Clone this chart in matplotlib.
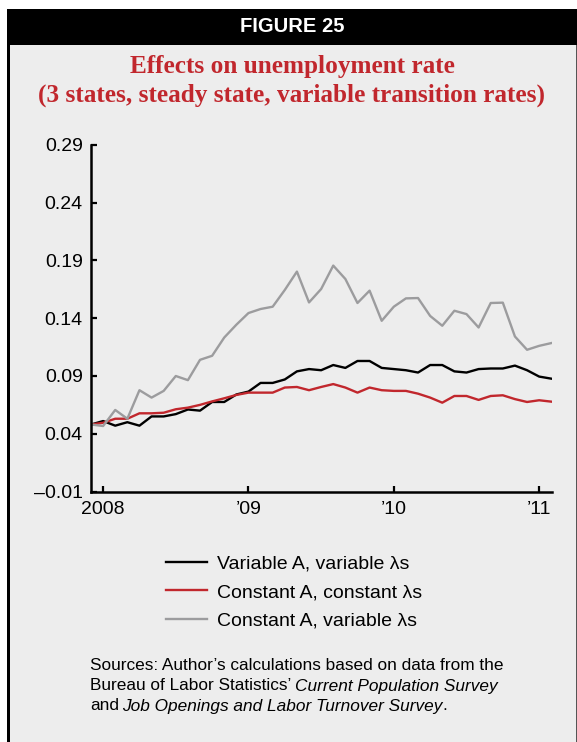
import numpy as np
import pandas as pd
import matplotlib
matplotlib.use("Agg")
import matplotlib.pyplot as plt
from matplotlib.patches import Rectangle

# monthly observations, Dec 2007 - Feb 2011
months = pd.date_range("2007-12-01", "2011-02-01", freq="MS")

variable_a_variable_l = [
    0.048, 0.051, 0.047, 0.050, 0.047, 0.055, 0.055, 0.057, 0.061, 0.060,
    0.0675, 0.0675, 0.074, 0.0765, 0.084, 0.084, 0.087, 0.094, 0.096, 0.095,
    0.0995, 0.097, 0.103, 0.103, 0.097, 0.096, 0.095, 0.093, 0.0995, 0.0995,
    0.094, 0.093, 0.096, 0.0965, 0.0965, 0.099, 0.095, 0.0895, 0.0877,
]
constant_a_constant_l = [
    0.048, 0.0495, 0.053, 0.053, 0.0577, 0.0577, 0.0582, 0.0612, 0.0626, 0.065,
    0.068, 0.0707, 0.0736, 0.0756, 0.0756, 0.0756, 0.080, 0.0805, 0.0777, 0.0805,
    0.083, 0.080, 0.0756, 0.080, 0.0777, 0.0771, 0.0771, 0.0747, 0.0713, 0.0669,
    0.0727, 0.0727, 0.0693, 0.0727, 0.0733, 0.070, 0.0675, 0.069, 0.0678,
]
constant_a_variable_l = [
    0.048, 0.0467, 0.0606, 0.053, 0.0777, 0.0713, 0.0771, 0.090, 0.0864, 0.104,
    0.1075, 0.1233, 0.1344, 0.1445, 0.148, 0.150, 0.1645, 0.1804, 0.1537, 0.1653,
    0.1856, 0.174, 0.1532, 0.1639, 0.1378, 0.150, 0.1572, 0.1575, 0.142, 0.1335,
    0.1465, 0.1436, 0.132, 0.1532, 0.1535, 0.1242, 0.1127, 0.1161, 0.1185,
]
series_labels = ["Variable A, variable \u03bbs", "Constant A, constant \u03bbs",
                 "Constant A, variable \u03bbs"]
series_colors = ["#000000", "#c1272d", "#9c9c9e"]

y_ticks = [-0.01, 0.04, 0.09, 0.14, 0.19, 0.24, 0.29]
y_tick_labels = ["\u20130.01", "0.04", "0.09", "0.14", "0.19", "0.24", "0.29"]
x_ticks = [2008, 2009, 2010, 2011]
x_tick_labels = ["2008", "\u201909", "\u201910", "\u201911"]

W, H = 577, 742
BG = "#ededed"
RED = "#c1272d"
SANS = ["Liberation Sans", "DejaVu Sans"]
SERIF = ["Liberation Serif", "DejaVu Serif"]


def fx(px):
    return px / W


def fy(py):
    return 1 - py / H


x = months.year + (months.month - 1) / 12

fig = plt.figure(figsize=(W / 100, H / 100), dpi=100)
fig.patch.set_facecolor("white")


# frame: gray panel, left border, black header
def box(x0, y0, x1, y1, color):
    fig.add_artist(Rectangle((fx(x0), fy(y1)), fx(x1 - x0), fy(y0) - fy(y1),
                             transform=fig.transFigure, facecolor=color,
                             edgecolor="none", zorder=0))


box(10, 45, 576, H, BG)
box(7, 9, 10, H, "black")
box(576, 45, 577, H, "#555555")
box(7, 9, 577, 45, "black")

fig.text(fx(292), fy(27), "FIGURE 25", color="white", ha="center", va="center",
         fontsize=14.5, fontweight="heavy", family=SANS)
fig.text(fx(292), fy(66), "Effects on unemployment rate", color=RED,
         ha="center", va="center", fontsize=18.2, fontweight="bold", family=SERIF)
fig.text(fx(292), fy(95), "(3 states, steady state, variable transition rates)",
         color=RED, ha="center", va="center", fontsize=18.2, fontweight="bold",
         family=SERIF)

ax = fig.add_axes([fx(91), fy(491.5), fx(552 - 91), (491.5 - 145) / H])
ax.set_facecolor("none")

for vals, lab, col in zip([variable_a_variable_l, constant_a_constant_l,
                           constant_a_variable_l], series_labels, series_colors):
    ax.plot(x, vals, color=col, lw=1.7, label=lab)

ax.set_xlim(2007 + 11 / 12, 2011 + 1 / 12 + 0.005)
ax.set_ylim(-0.01, 0.29)
ax.set_yticks(y_ticks)
ax.set_yticklabels(y_tick_labels, family=SANS)
ax.set_xticks(x_ticks)
ax.set_xticklabels(x_tick_labels, family=SANS)
ax.tick_params(direction="in", length=4, width=1.6, labelsize=14, color="black")
ax.tick_params(axis="y", pad=6)
ax.tick_params(axis="x", pad=7)
for side in ["top", "right"]:
    ax.spines[side].set_visible(False)
for side in ["left", "bottom"]:
    ax.spines[side].set_linewidth(1.8)

handles, labels = ax.get_legend_handles_labels()
fig.legend(handles, labels, loc="upper left", bbox_to_anchor=(fx(166), fy(555)),
           frameon=False, prop={"family": SANS, "size": 14},
           handlelength=2.1, handletextpad=0.5, labelspacing=0.56,
           borderpad=0, borderaxespad=0)

# sources note, roman and italic pieces chained one after another
src_size = 12.4
note_lines = [
    [("Sources: Author\u2019s calculations based on data from the", "normal")],
    [("Bureau of Labor Statistics\u2019", "normal"),
     ("Current Population Survey", "italic")],
    [("and", "normal"), ("Job Openings and Labor Turnover Survey", "italic"),
     (".", "normal")],
]
for k, pieces in enumerate(note_lines):
    last = fig.text(fx(90), fy(666 + 20 * k), pieces[0][0], ha="left",
                    va="center", fontsize=src_size, style=pieces[0][1],
                    family=SANS)
    for txt, style in pieces[1:]:
        gap = 0 if txt == "." else src_size * 0.2
        last = ax.annotate(txt, xy=(1, 0), xycoords=last,
                           xytext=(gap, 0), textcoords="offset points",
                           ha="left", va="bottom", fontsize=src_size,
                           style=style, family=SANS)

fig.savefig("out.png", dpi=100, facecolor=fig.get_facecolor())
